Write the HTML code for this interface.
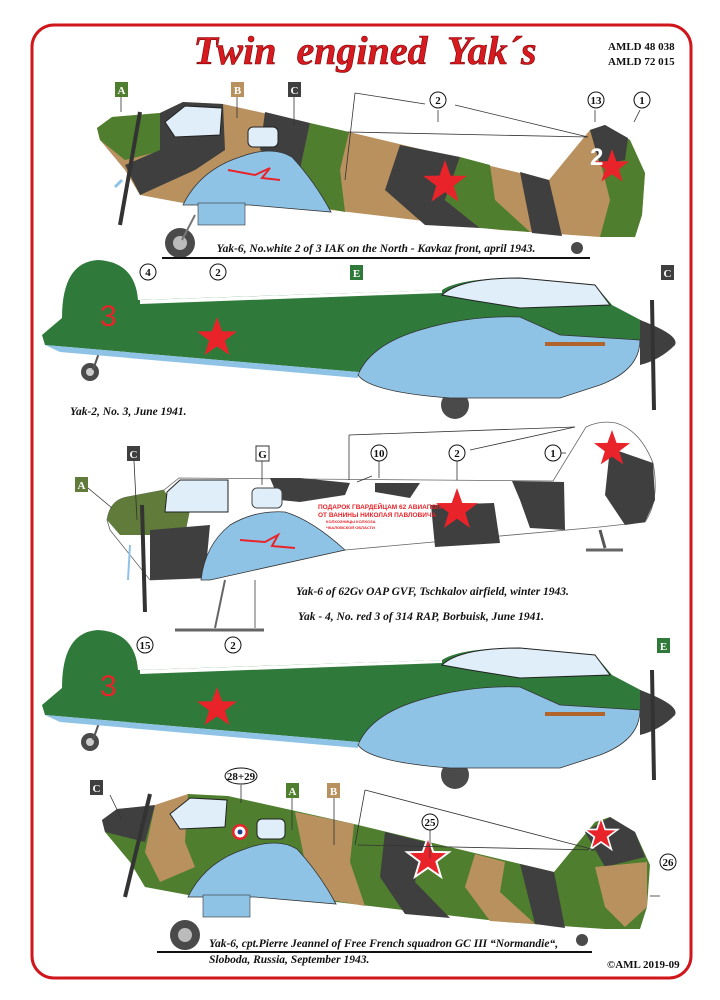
<!DOCTYPE html>
<html><head><meta charset="utf-8"><style>
html,body{margin:0;padding:0;background:#fff}
svg{display:block}
.cap{font-family:"Liberation Serif",serif;font-style:italic;font-weight:bold;font-size:11.5px;fill:#111}
.num{font-family:"Liberation Serif",serif;font-weight:bold;font-size:11px;fill:#111}
.lb{font-family:"Liberation Serif",serif;font-weight:bold;font-size:11px;fill:#fff}
</style></head><body>
<svg width="720" height="1000" viewBox="0 0 720 1000" xmlns="http://www.w3.org/2000/svg">
<defs>
<polygon id="star" points="0,-10 2.4,-3.2 9.5,-3.1 3.8,1.2 5.9,8.1 0,4 -5.9,8.1 -3.8,1.2 -9.5,-3.1 -2.4,-3.2"/>
</defs>
<rect x="32" y="25" width="659" height="953" rx="22" fill="none" stroke="#d0161b" stroke-width="3"/>
<text x="365" y="64" text-anchor="middle" font-family="Liberation Serif,serif" font-style="italic" font-weight="bold" font-size="40" fill="#d71920" stroke="#7a0000" stroke-width="0.6" xml:space="preserve">Twin  engined  Yak´s</text>
<text x="608" y="50" class="num" font-size="12">AMLD 48 038</text>
<text x="608" y="65" class="num" font-size="12">AMLD 72 015</text>

<!-- Plane 1 -->
<g>
<circle cx="180" cy="243" r="15" fill="#4a4a4a"/><circle cx="180" cy="243" r="7" fill="#bbb"/>
<line x1="195" y1="215" x2="182" y2="240" stroke="#777" stroke-width="2"/>
<circle cx="577" cy="248" r="6" fill="#4a4a4a"/>
<polygon points="97,128 112,117 160,113 183,102 223,104 349,132 549,180 590,130 605,125 630,140 645,173 642,215 635,237 600,237 500,230 331,210 250,203 183,203 140,195 125,170 100,140" fill="#b8915f"/>
<polygon points="97,128 112,117 160,113 165,150 125,160 100,140" fill="#4f7e2f"/>
<polygon points="160,113 183,102 223,104 225,150 195,170 140,195 125,165 160,150" fill="#3f3f3f"/>
<polygon points="265,112 310,123 300,170 260,150" fill="#3f3f3f"/>
<polygon points="310,123 349,132 340,170 345,212 320,207 300,170" fill="#4f7e2f"/>
<polygon points="400,145 460,157 445,200 480,228 425,225 385,190" fill="#3f3f3f"/>
<polygon points="460,157 490,165 495,200 530,232 480,228 445,200" fill="#4f7e2f"/>
<polygon points="520,172 549,180 562,236 532,233" fill="#3f3f3f"/>
<polygon points="590,130 605,125 630,140 645,173 642,215 635,237 600,237 610,200 600,160" fill="#4f7e2f"/>
<polygon points="590,130 605,125 628,138 625,160 600,165" fill="#3f3f3f"/>
<polygon points="165,122 185,106 222,108 220,135 175,137" fill="#dfeef8" stroke="#222" stroke-width="1"/>
<rect x="248" y="127" width="30" height="20" rx="5" fill="#dfeef8" stroke="#222"/>
<path d="M183,205 Q200,170 240,157 Q272,145 292,157 Q315,182 331,212 L250,205 Z" fill="#8fc3e6" stroke="#333" stroke-width="0.8"/>
<rect x="198" y="203" width="47" height="22" fill="#8fc3e6" stroke="#333" stroke-width="0.6"/>
<line x1="140" y1="112" x2="120" y2="225" stroke="#333" stroke-width="4"/>
<line x1="122" y1="180" x2="115" y2="187" stroke="#8fc3e6" stroke-width="3"/>
<use href="#star" transform="translate(445,183) scale(2.3)" fill="#e8242a"/>
<use href="#star" transform="translate(612,167) scale(1.8)" fill="#e8242a"/>
<path d="M228,170 L255,175 L270,168 L262,178 L280,180" stroke="#e8242a" stroke-width="2" fill="none"/>
</g>
<text x="590" y="165" font-family="Liberation Sans,sans-serif" font-weight="bold" font-size="24" fill="#fff">2</text>
<line x1="162" y1="258" x2="590" y2="258" stroke="#111" stroke-width="2"/>
<text x="376" y="252" class="cap" text-anchor="middle">Yak-6, No.white 2 of 3 IAK on the North - Kavkaz front, april 1943.</text>
<rect x="115" y="82" width="13" height="15" fill="#4f7e2f"/><text x="121.5" y="94" class="lb" text-anchor="middle">A</text>
<rect x="231" y="82" width="13" height="15" fill="#b8915f"/><text x="237.5" y="94" class="lb" text-anchor="middle">B</text>
<rect x="288" y="82" width="13" height="15" fill="#3f3f3f"/><text x="294.5" y="94" class="lb" text-anchor="middle">C</text>
<g stroke="#333" stroke-width="0.8" fill="none">
<line x1="121" y1="97" x2="121" y2="112"/><line x1="237" y1="97" x2="237" y2="118"/><line x1="294" y1="97" x2="294" y2="125"/>
<line x1="355" y1="93" x2="345" y2="180"/><line x1="355" y1="93" x2="425" y2="104"/><line x1="455" y1="105" x2="588" y2="137"/><line x1="348" y1="132" x2="588" y2="137"/>
<line x1="438" y1="110" x2="438" y2="122"/><line x1="595" y1="110" x2="595" y2="122"/><line x1="640" y1="110" x2="634" y2="122"/>
</g>
<g fill="#fff" stroke="#111" stroke-width="1"><circle cx="438" cy="100" r="8"/><circle cx="596" cy="100" r="8"/><circle cx="642" cy="100" r="8"/></g>
<text x="438" y="104" class="num" text-anchor="middle">2</text><text x="596" y="104" class="num" text-anchor="middle" font-size="9">13</text><text x="642" y="104" class="num" text-anchor="middle">1</text>

<!-- Plane 2 -->
<g id="p2">
<circle cx="455" cy="405" r="14" fill="#4a4a4a"/>
<circle cx="90" cy="372" r="9" fill="#4a4a4a"/><circle cx="90" cy="372" r="4" fill="#ccc"/>
<line x1="100" y1="350" x2="93" y2="370" stroke="#555" stroke-width="2"/>
<path d="M42,335 L62,318 Q62,262 98,260 Q135,262 138,300 L442,290 Q460,278 520,278 L595,285 L612,305 L650,325 L645,345 L600,352 L358,372 L45,345 Z" fill="#2f7a3a"/>
<polygon points="45,345 358,372 358,378 60,352" fill="#8fc3e6"/>
<path d="M140,300 L442,290 L442,293 L140,304 Z" fill="#fff"/>
<path d="M442,295 Q460,278 520,278 L595,285 L610,305 L520,308 L470,300 Z" fill="#dfeef8" stroke="#222"/>
<path d="M358,375 Q370,345 420,330 Q470,315 520,317 L560,335 L640,340 Q640,370 600,385 L560,398 L450,398 Q370,392 358,375 Z" fill="#8fc3e6" stroke="#333" stroke-width="0.8"/>
<rect x="545" y="342" width="60" height="4" fill="#b0642a"/>
<path d="M640,320 Q680,335 675,345 Q660,360 640,365 Z" fill="#3f3f3f"/>
<line x1="652" y1="300" x2="654" y2="410" stroke="#333" stroke-width="4"/>
<use href="#star" transform="translate(217,338) scale(2.1)" fill="#e8242a"/>
<text x="100" y="326" font-family="Liberation Sans,sans-serif" font-size="30" fill="#e8242a">3</text>
</g>
<g fill="#fff" stroke="#111"><circle cx="148" cy="272" r="8"/><circle cx="218" cy="272" r="8"/></g>
<text x="148" y="276" class="num" text-anchor="middle">4</text><text x="218" y="276" class="num" text-anchor="middle">2</text>
<rect x="350" y="265" width="13" height="15" fill="#2f7a3a"/><text x="356.5" y="277" class="lb" text-anchor="middle">E</text>
<rect x="661" y="265" width="13" height="15" fill="#3f3f3f"/><text x="667.5" y="277" class="lb" text-anchor="middle">C</text>
<text x="70" y="415" class="cap">Yak-2, No. 3, June 1941.</text>

<!-- Plane 3 -->
<g>
<line x1="175" y1="630" x2="264" y2="630" stroke="#666" stroke-width="3"/>
<line x1="225" y1="580" x2="215" y2="628" stroke="#666" stroke-width="2"/>
<line x1="255" y1="580" x2="255" y2="628" stroke="#666" stroke-width="1"/>
<line x1="586" y1="550" x2="623" y2="550" stroke="#666" stroke-width="3"/>
<line x1="600" y1="530" x2="605" y2="548" stroke="#555" stroke-width="3"/>
<path d="M107,520 Q110,500 127,497 L164,490 L179,478 L553,481 L586,427 Q600,420 616,423 Q640,430 653,463 Q660,500 645,522 L600,527 L345,550 L200,578 L150,580 L110,530 Z" fill="#fff" stroke="#666" stroke-width="0.8"/>
<path d="M107,520 Q110,500 127,497 L164,490 L170,500 L190,510 L185,535 L120,535 Z" fill="#607b3a"/>
<polygon points="270,478 300,478 350,483 345,495 300,502 280,500 275,490" fill="#3f3f3f"/>
<polygon points="375,483 420,483 410,498 375,492" fill="#3f3f3f"/>
<polygon points="431,505 494,503 500,543 435,547" fill="#3f3f3f"/>
<polygon points="512,481 564,482 565,530 530,528 520,500" fill="#3f3f3f"/>
<polygon points="610,448 653,463 655,500 645,522 625,525 605,495" fill="#3f3f3f"/>
<path d="M167,492 L180,480 L228,480 L228,512 L165,512 Z" fill="#dfeef8" stroke="#222"/>
<rect x="252" y="488" width="30" height="20" rx="5" fill="#dfeef8" stroke="#444"/>
<path d="M150,530 L210,525 L205,578 L150,580 Z" fill="#3f3f3f"/>
<path d="M201,580 Q205,545 230,525 Q255,510 285,512 Q312,520 345,550 L210,580 Z" fill="#8fc3e6" stroke="#333" stroke-width="0.8"/>
<line x1="142" y1="505" x2="145" y2="612" stroke="#333" stroke-width="4"/>
<line x1="130" y1="545" x2="128" y2="580" stroke="#8fc3e6" stroke-width="2"/>
<use href="#star" transform="translate(457,510) scale(2.2)" fill="#e8242a"/>
<use href="#star" transform="translate(612,449) scale(1.9)" fill="#e8242a"/>
<path d="M240,540 L265,542 L278,535 L272,546 L295,548" stroke="#e8242a" stroke-width="2" fill="none"/>
<g font-family="Liberation Sans,sans-serif" font-weight="bold" font-size="6.5" fill="#e8242a"><text x="318" y="509">ПОДАРОК ГВАРДЕЙЦАМ 62 АВИАПОЛКА</text><text x="318" y="517">ОТ ВАНИНЫ НИКОЛАЯ ПАВЛОВИЧА</text><text x="326" y="523" font-size="4">КОЛХОЗНИЦЫ КОЛХОЗА</text><text x="326" y="529" font-size="4">ЧКАЛОВСКОЙ ОБЛАСТИ</text></g>
</g>
<rect x="75" y="477" width="13" height="15" fill="#607b3a"/><text x="81.5" y="489" class="lb" text-anchor="middle">A</text>
<rect x="127" y="446" width="13" height="15" fill="#3f3f3f"/><text x="133.5" y="458" class="lb" text-anchor="middle">C</text>
<rect x="256" y="446" width="13" height="15" fill="#fff" stroke="#333"/><text x="262.5" y="458" class="num" text-anchor="middle">G</text>
<g stroke="#333" stroke-width="0.8" fill="none"><line x1="88" y1="488" x2="112" y2="508"/><line x1="134" y1="461" x2="137" y2="520"/><line x1="262" y1="461" x2="262" y2="485"/><line x1="349" y1="435" x2="349" y2="480"/><line x1="349" y1="435" x2="575" y2="427"/><line x1="470" y1="450" x2="575" y2="427"/><line x1="379" y1="461" x2="379" y2="478"/><line x1="357" y1="482" x2="372" y2="476"/><line x1="457" y1="461" x2="457" y2="480"/><line x1="561" y1="453" x2="566" y2="453"/></g>
<g fill="#fff" stroke="#111"><circle cx="379" cy="453" r="8"/><circle cx="457" cy="453" r="8"/><circle cx="553" cy="453" r="8"/></g>
<text x="379" y="457" class="num" text-anchor="middle" font-size="9">10</text><text x="457" y="457" class="num" text-anchor="middle">2</text><text x="553" y="457" class="num" text-anchor="middle">1</text>
<text x="296" y="595" class="cap">Yak-6 of 62Gv OAP GVF, Tschkalov airfield, winter 1943.</text>
<text x="298" y="620" class="cap">Yak - 4, No. red 3 of 314 RAP, Borbuisk, June 1941.</text>

<!-- Plane 4 -->
<use href="#p2" transform="translate(0,370)"/>
<g fill="#fff" stroke="#111"><circle cx="145" cy="645" r="8"/><circle cx="233" cy="645" r="8"/></g>
<text x="145" y="649" class="num" text-anchor="middle" font-size="9">15</text><text x="233" y="649" class="num" text-anchor="middle">2</text>
<rect x="657" y="638" width="13" height="15" fill="#2f7a3a"/><text x="663.5" y="650" class="lb" text-anchor="middle">E</text>

<!-- Plane 5 -->
<g transform="translate(5,692)">
<circle cx="180" cy="243" r="15" fill="#4a4a4a"/><circle cx="180" cy="243" r="7" fill="#bbb"/>
<circle cx="577" cy="248" r="6" fill="#4a4a4a"/>
<polygon points="97,128 112,117 160,113 183,102 223,104 349,132 549,180 590,130 605,125 630,140 645,173 642,215 635,237 600,237 500,230 331,210 250,203 183,203 140,195 125,170 100,140" fill="#4f7e2f"/>
<polygon points="97,128 112,117 150,113 140,150 100,140" fill="#3f3f3f"/>
<polygon points="150,113 183,102 180,150 190,175 155,190 140,160" fill="#b8915f"/>
<polygon points="290,120 349,132 345,170 360,214 320,207 300,170" fill="#b8915f"/>
<polygon points="380,140 420,150 410,190 445,226 400,222 375,185" fill="#3f3f3f"/>
<polygon points="470,162 500,170 495,200 530,232 485,229 460,195" fill="#b8915f"/>
<polygon points="515,172 549,180 560,236 530,232" fill="#3f3f3f"/>
<polygon points="580,140 605,125 630,140 640,165 600,175" fill="#3f3f3f"/>
<polygon points="590,175 642,170 642,215 620,235 600,215" fill="#b8915f"/>
<polygon points="165,122 185,106 222,108 220,135 175,137" fill="#dfeef8" stroke="#222" stroke-width="1"/>
<rect x="252" y="127" width="28" height="20" rx="5" fill="#dfeef8" stroke="#222"/>
<circle cx="235" cy="140" r="8" fill="#e8242a"/><circle cx="235" cy="140" r="5.5" fill="#fff"/><circle cx="235" cy="140" r="2.5" fill="#1a3a9a"/>
<path d="M183,205 Q200,170 240,157 Q272,145 292,157 Q315,182 331,212 L250,205 Z" fill="#8fc3e6" stroke="#333" stroke-width="0.8"/>
<rect x="198" y="203" width="47" height="22" fill="#8fc3e6" stroke="#333" stroke-width="0.6"/>
<line x1="145" y1="102" x2="120" y2="205" stroke="#333" stroke-width="4"/>
<use href="#star" transform="translate(423,167) scale(2.5)" fill="#fff"/>
<use href="#star" transform="translate(423,167) scale(1.9)" fill="#e8242a"/>
<use href="#star" transform="translate(596,143) scale(2)" fill="#fff"/>
<use href="#star" transform="translate(596,143) scale(1.5)" fill="#e8242a"/>
</g>
<g stroke="#333" stroke-width="0.8" fill="none"><line x1="241" y1="785" x2="241" y2="803"/><line x1="292" y1="798" x2="292" y2="830"/><line x1="334" y1="798" x2="334" y2="845"/><line x1="110" y1="795" x2="122" y2="820"/><line x1="365" y1="790" x2="355" y2="845"/><line x1="365" y1="790" x2="595" y2="850"/><line x1="358" y1="845" x2="595" y2="850"/><line x1="430" y1="830" x2="430" y2="858"/><line x1="650" y1="896" x2="660" y2="896"/></g>
<rect x="90" y="780" width="13" height="15" fill="#3f3f3f"/><text x="96.5" y="792" class="lb" text-anchor="middle">C</text>
<rect x="286" y="783" width="13" height="15" fill="#4f7e2f"/><text x="292.5" y="795" class="lb" text-anchor="middle">A</text>
<rect x="327" y="783" width="13" height="15" fill="#b8915f"/><text x="333.5" y="795" class="lb" text-anchor="middle">B</text>
<g fill="#fff" stroke="#111"><ellipse cx="241" cy="776" rx="16" ry="8"/><circle cx="430" cy="822" r="8"/><circle cx="668" cy="862" r="8"/></g>
<text x="241" y="780" class="num" text-anchor="middle" font-size="10">28+29</text><text x="430" y="826" class="num" text-anchor="middle" font-size="9">25</text><text x="668" y="866" class="num" text-anchor="middle" font-size="9">26</text>
<line x1="157" y1="952" x2="592" y2="952" stroke="#111" stroke-width="2"/>
<text x="209" y="947" class="cap">Yak-6, cpt.Pierre Jeannel of  Free French squadron GC III “Normandie“,</text>
<text x="209" y="963" class="cap">Sloboda, Russia, September 1943.</text>
<text x="607" y="968" class="num" font-size="10">©AML 2019-09</text>
</svg>
</body></html>
